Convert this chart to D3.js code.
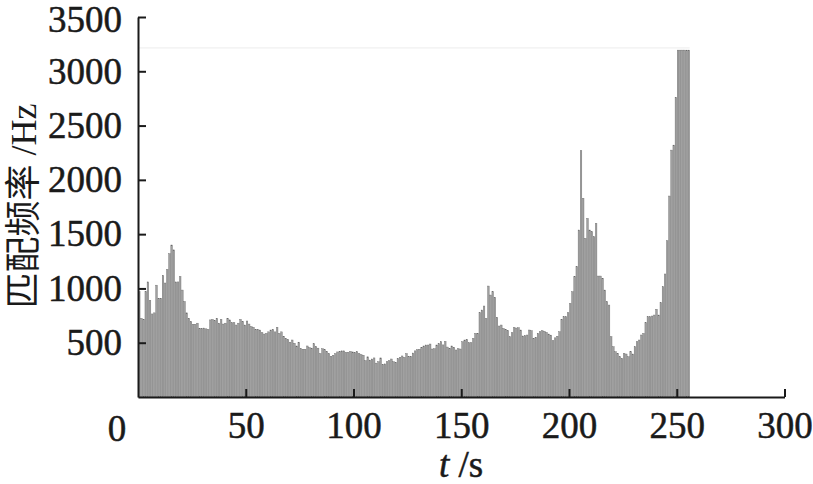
<!DOCTYPE html>
<html>
<head>
<meta charset="utf-8">
<script src="https://cdn.jsdelivr.net/npm/d3@7"></script>
<style>
  body { margin: 0; background: #fff; }
</style>
</head>
<body>
<div id="chart"></div>
<script>
// matching frequency per second (t = 0 .. 255)
let matchFreq = [
  970, 725, 715, 970, 1060, 890, 765, 775, 1030, 910,
  910, 1120, 1050, 1175, 1320, 1400, 1355, 1060, 1060, 1110,
  985, 880, 775, 725, 695, 670, 670, 680, 630, 630,
  635, 628, 622, 710, 715, 705, 725, 680, 715, 672,
  680, 725, 710, 685, 685, 663, 680, 715, 695, 663,
  700, 672, 648, 642, 622, 622, 617, 592, 580, 586,
  600, 617, 622, 600, 642, 586, 600, 560, 540, 530,
  505, 525, 495, 470, 505, 445, 440, 440, 470, 455,
  450, 490, 465, 450, 400, 445, 435, 420, 400, 375,
  385, 400, 415, 420, 425, 425, 410, 412, 420, 415,
  410, 418, 400, 390, 385, 335, 370, 340, 350, 360,
  312, 325, 360, 300, 305, 325, 335, 350, 325, 320,
  355, 365, 378, 365, 400, 372, 375, 405, 425, 435,
  440, 458, 470, 479, 479, 488, 442, 445, 479, 490,
  509, 480, 512, 460, 448, 470, 458, 433, 445, 442,
  509, 525, 530, 500, 500, 540, 586, 586, 776, 801,
  838, 724, 1022, 939, 970, 918, 734, 654, 663, 632,
  623, 611, 555, 592, 641, 635, 638, 617, 562, 565,
  571, 617, 611, 540, 550, 586, 601, 611, 605, 595,
  580, 570, 518, 545, 560, 601, 715, 739, 739, 776,
  862, 970, 1108, 1200, 1538, 2268, 1830, 1461, 1645, 1538,
  1522, 1476, 1599, 1114, 1114, 1093, 985, 878, 847, 555,
  463, 417, 402, 371, 356, 402, 396, 371, 417, 396,
  463, 509, 525, 571, 586, 684, 739, 739, 746, 755,
  808, 755, 868, 1016, 1133, 1439, 1851, 2274, 2320, 2760,
  3195, 3195, 3195, 3195, 3195, 3195
];

let xTicks = [50, 100, 150, 200, 250, 300];
let yTicks = [500, 1000, 1500, 2000, 2500, 3000, 3500];
let capLevel = 3215; // faint top line the bars run into

let width = 813, height = 484;

let svg = d3.select("#chart").append("svg")
  .attr("width", width)
  .attr("height", height);

let x = d3.scaleLinear().domain([0, 300]).range([138, 784.5]);
let y = d3.scaleLinear().domain([0, 3500]).range([397, 17]);

let step = x(1) - x(0);

// faint line at the top of the clipped bars
svg.append("line")
  .attr("x1", x(0)).attr("x2", x(matchFreq.length))
  .attr("y1", y(capLevel)).attr("y2", y(capLevel))
  .attr("stroke", "#ececec")
  .attr("stroke-width", 1);

// bars
svg.selectAll("rect.bar")
  .data(matchFreq)
  .join("rect")
  .attr("class", "bar")
  .attr("x", (d, i) => x(i) + 0.5)
  .attr("width", step - 0.6)
  .attr("y", d => y(d))
  .attr("height", d => y(0) - y(d))
  .attr("fill", "#a0a0a0")
  .attr("stroke", "#686868")
  .attr("stroke-width", 0.4);

let serif = "'Liberation Serif', 'Times New Roman', serif";
let ink = "#1a1a1a";

// x axis
let xAxis = svg.append("g")
  .attr("transform", "translate(0," + y(0) + ")")
  .call(d3.axisBottom(x).tickValues(xTicks).tickFormat(d3.format("d"))
    .tickSize(-8).tickSizeOuter(0).tickPadding(15));

// y axis
let yAxis = svg.append("g")
  .attr("transform", "translate(" + x(0) + ",0)")
  .call(d3.axisLeft(y).tickValues(yTicks).tickFormat(d3.format("d"))
    .tickSize(-8).tickSizeOuter(0).tickPadding(16));

[xAxis, yAxis].forEach(g => {
  g.select(".domain").attr("stroke", ink).attr("stroke-width", 2);
  g.selectAll(".tick line").attr("stroke", ink).attr("stroke-width", 2);
  g.selectAll(".tick text")
    .attr("fill", ink)
    .attr("stroke", ink)
    .attr("stroke-width", 0.5)
    .style("font-family", serif)
    .style("font-size", "37px");
});

// nudge the top label down a touch so it stays inside the page
yAxis.selectAll(".tick text").filter(d => d === 3500).attr("dy", "0.4em");

// shared origin label
svg.append("text")
  .attr("x", x(0) - 21)
  .attr("y", y(0) + 44)
  .attr("text-anchor", "middle")
  .attr("fill", ink)
  .attr("stroke", ink)
  .attr("stroke-width", 0.5)
  .style("font-family", serif)
  .style("font-size", "37px")
  .text("0");

// axis titles
let xTitle = svg.append("text")
  .attr("x", 461)
  .attr("y", 477)
  .attr("text-anchor", "middle")
  .attr("fill", ink)
  .attr("stroke", ink)
  .attr("stroke-width", 0.5)
  .style("font-family", serif)
  .style("font-size", "37px");
xTitle.append("tspan").style("font-style", "italic").text("t");
xTitle.append("tspan").text(" /s");

svg.append("text")
  .attr("transform", "translate(36,206) rotate(-90)")
  .attr("text-anchor", "middle")
  .attr("fill", ink)
  .style("font-family", serif + ", 'Noto Sans CJK SC'")
  .style("font-size", "36px")
  .text("匹配频率 /Hz");
</script>
</body>
</html>
